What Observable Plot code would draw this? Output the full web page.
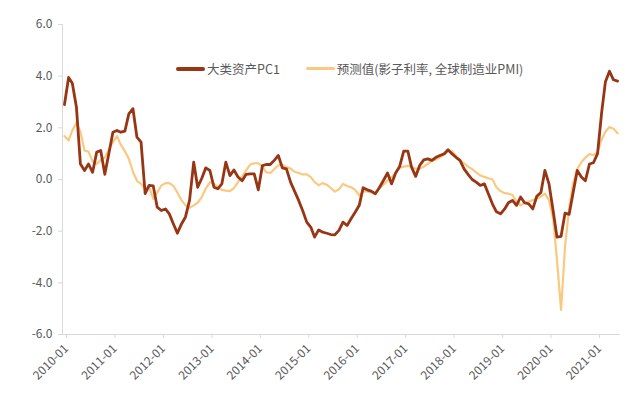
<!DOCTYPE html>
<html>
<head>
<meta charset="utf-8">
<script src="https://cdn.jsdelivr.net/npm/d3@7"></script>
<script src="https://cdn.jsdelivr.net/npm/@observablehq/plot@0.6"></script>
<style>
  html, body { margin: 0; padding: 0; background: #ffffff; }
  #wrap { position: relative; width: 640px; height: 397px; font-family: "Noto Sans CJK SC", "Noto Sans", sans-serif; }
  #legend { position: absolute; top: 59px; left: 176px; display: flex; align-items: center; font-size: 12.5px; color: #595959; white-space: nowrap; }
  .sw { display: inline-block; width: 29px; border-radius: 2px; margin-right: 2px; }
  .item { display: flex; align-items: center; }
</style>
</head>
<body>
<div id="wrap">
  <div id="chart"></div>
  <div id="legend"></div>
</div>
<script>
// ---- data ----
const startMonth = "2010-01";
const seriesNames = ["大类资产PC1", "预测值(影子利率, 全球制造业PMI)"];
const seriesColors = ["#973514", "#FAC97F"];
const yTicks = [-6, -4, -2, 0, 2, 4, 6];

const pc1 = [
  2.9, 3.95, 3.73, 2.8, 0.6, 0.35, 0.6, 0.28, 1.06, 1.12, 0.2, 1.0,
  1.83, 1.9, 1.83, 1.87, 2.54, 2.74, 1.64, 1.45, -0.55, -0.23, -0.25, -1.07,
  -1.2, -1.14, -1.33, -1.72, -2.08, -1.72, -1.45, -0.8, 0.67, -0.3, 0.05, 0.45,
  0.35, -0.3, -0.36, -0.17, 0.67, 0.15, 0.37, 0.1, -0.05, 0.2, 0.22, 0.22,
  -0.4, 0.54, 0.58, 0.58, 0.74, 0.93, 0.45, 0.41, -0.1, -0.45, -0.81, -1.2,
  -1.65, -1.85, -2.23, -1.95, -2.04, -2.08, -2.13, -2.14, -1.97, -1.65, -1.78, -1.52,
  -1.27, -1.0, -0.32, -0.4, -0.45, -0.55, -0.32, -0.04, 0.25, -0.17, 0.25, 0.5,
  1.1, 1.1, 0.48, 0.12, 0.54, 0.76, 0.8, 0.74, 0.86, 0.93, 0.99, 1.15,
  0.99, 0.85, 0.74, 0.41, 0.2, 0.0, -0.1, -0.23, -0.17, -0.55, -0.95, -1.25,
  -1.33, -1.14, -0.9, -0.81, -1.0, -0.68, -0.9, -0.94, -1.14, -0.65, -0.5, 0.35,
  -0.17, -1.2, -2.23, -2.2, -1.3, -1.35, -0.5, 0.35, 0.1, -0.05, 0.6, 0.65,
  1.0, 2.6, 3.77, 4.19, 3.86, 3.81
];

const forecast = [
  1.68, 1.51, 1.9, 2.2, 1.85, 1.12, 1.08, 0.7, 0.6, 0.75, 0.85, 1.15,
  1.45, 1.68, 1.35, 1.1, 0.8, 0.3, -0.05, -0.17, -0.36, -0.3, -0.75, -0.5,
  -0.23, -0.14, -0.14, -0.25, -0.5, -0.8, -1.0, -1.1, -1.0, -0.9, -0.68, -0.35,
  -0.1, -0.17, -0.3, -0.4, -0.43, -0.45, -0.33, -0.1, 0.12, 0.35, 0.58, 0.63,
  0.63, 0.5, 0.28, 0.25, 0.4, 0.55, 0.57, 0.48, 0.42, 0.3, 0.25, 0.2,
  0.2, 0.09, -0.1, -0.22, -0.14, -0.2, -0.33, -0.47, -0.38, -0.17, -0.25, -0.3,
  -0.4, -0.62, -0.45, -0.46, -0.5, -0.55, -0.33, -0.2, -0.05, 0.09, 0.25, 0.45,
  0.5, 0.53, 0.5, 0.41, 0.41, 0.5, 0.6, 0.72, 0.78, 0.85, 0.98, 1.1,
  1.1, 0.9, 0.74, 0.62, 0.5, 0.4, 0.28, 0.16, 0.1, 0.05, 0.0, -0.3,
  -0.45, -0.53, -0.55, -0.6, -0.85, -1.0, -0.9, -0.85, -0.8, -0.74, -0.66, -0.55,
  -0.8, -1.5, -3.1, -5.05, -2.6, -1.1, -0.15, 0.4, 0.67, 0.85, 0.98, 0.95,
  1.05, 1.55, 1.85, 2.03, 1.96, 1.79
];

// ---- build table ----
const t0 = d3.utcParse("%Y-%m")(startMonth);
const rows = [];
pc1.forEach((v, i) => rows.push({date: d3.utcDay.offset(d3.utcMonth.offset(t0, i), 15), value: v, series: seriesNames[0]}));
forecast.forEach((v, i) => rows.push({date: d3.utcDay.offset(d3.utcMonth.offset(t0, i), 15), value: v, series: seriesNames[1]}));

const xStart = t0;
const xEnd = new Date(Date.UTC(2021, 6, 8));
const yearTicks = d3.utcYear.range(t0, xEnd);

const chart = Plot.plot({
  width: 640,
  height: 397,
  marginLeft: 62,
  marginRight: 20,
  marginTop: 24,
  marginBottom: 63,
  style: {fontFamily: '"Noto Sans CJK SC", "Noto Sans", sans-serif', fontSize: "12px", background: "#ffffff"},
  x: {type: "utc", domain: [xStart, xEnd]},
  y: {domain: [-6, 6]},
  color: {domain: seriesNames, range: seriesColors},
  marks: [
    Plot.ruleX([xStart], {stroke: "#d9d9d9", strokeWidth: 1}),
    Plot.ruleY([-6], {stroke: "#d9d9d9", strokeWidth: 1}),
    Plot.axisY({ticks: yTicks, tickFormat: d => d.toFixed(1), tickSize: 4, tickPadding: 6, stroke: "#d9d9d9", fill: "#595959", label: null, fontSize: 12}),
    Plot.axisX({ticks: yearTicks, tickFormat: d3.utcFormat("%Y-%m"), tickSize: 4, tickPadding: 8, dx: 4, tickRotate: -45, stroke: "#d9d9d9", fill: "#595959", label: null, fontSize: 12}),
    Plot.lineY(rows.filter(d => d.series === seriesNames[1]), {x: "date", y: "value", stroke: "series", strokeWidth: 2.2, strokeLinejoin: "round"}),
    Plot.lineY(rows.filter(d => d.series === seriesNames[0]), {x: "date", y: "value", stroke: "series", strokeWidth: 2.8, strokeLinejoin: "round"})
  ]
});
document.getElementById("chart").appendChild(chart);

// ---- legend ----
const legend = document.getElementById("legend");
seriesNames.forEach((name, i) => {
  const item = document.createElement("span");
  item.className = "item";
  if (i > 0) item.style.marginLeft = "26px";
  const sw = document.createElement("span");
  sw.className = "sw";
  sw.style.height = i === 0 ? "4px" : "3px";
  sw.style.background = seriesColors[i];
  const tx = document.createElement("span");
  tx.textContent = name;
  item.appendChild(sw);
  item.appendChild(tx);
  legend.appendChild(item);
});
</script>
</body>
</html>
